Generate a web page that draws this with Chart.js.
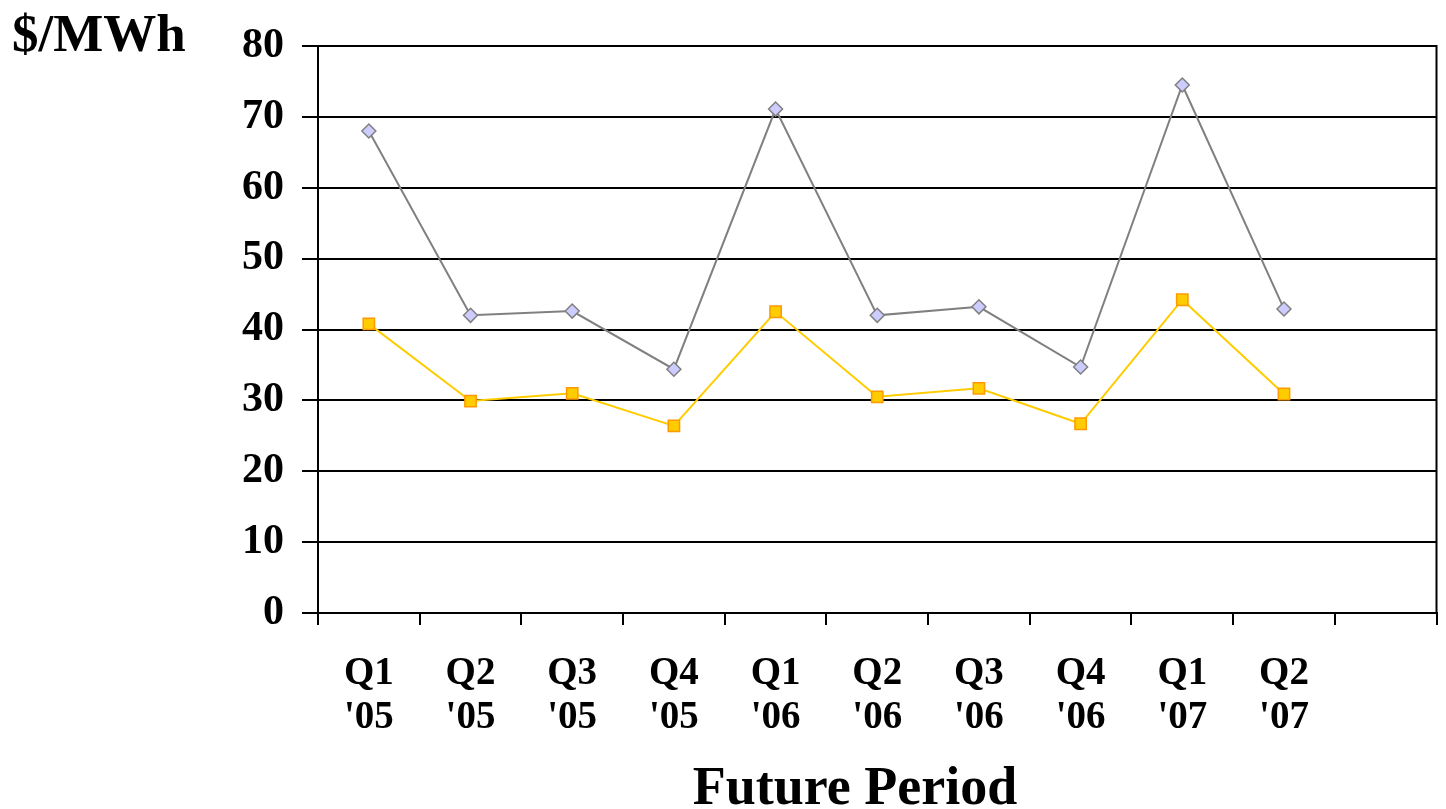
<!DOCTYPE html>
<html>
<head>
<meta charset="utf-8">
<title>Future Period prices</title>
<script src="https://cdn.jsdelivr.net/npm/chart.js@4"></script>
<style>
  html, body { margin: 0; padding: 0; background: #fff; }
  #wrap { width: 1446px; height: 809px; position: relative; }
</style>
</head>
<body>
<div id="wrap"><canvas id="chart"></canvas></div>
<script>
// quarters, last slot left empty on purpose
const periods = [['Q1', "'05"], ['Q2', "'05"], ['Q3', "'05"], ['Q4', "'05"], ['Q1', "'06"],
                 ['Q2', "'06"], ['Q3', "'06"], ['Q4', "'06"], ['Q1', "'07"], ['Q2', "'07"], ''];
const peakPrices = [68.0, 42.0, 42.6, 34.4, 71.1, 42.0, 43.2, 34.7, 74.5, 42.9];
const offPeakPrices = [40.8, 29.9, 31.0, 26.4, 42.5, 30.5, 31.7, 26.7, 44.2, 30.9];
const yMin = 0, yMax = 80, yStep = 10;

const FONT = '"Liberation Serif", "DejaVu Serif", serif';

// y title at the top left, x title under the labels, frame line on the right
const extras = {
  id: 'extras',
  afterDraw(c){
    const ctx = c.ctx, a = c.chartArea;
    ctx.save();
    ctx.strokeStyle = '#000'; ctx.lineWidth = 2;
    ctx.beginPath(); ctx.moveTo(a.right, a.top - 1); ctx.lineTo(a.right, a.bottom); ctx.stroke();
    ctx.fillStyle = '#000';
    ctx.font = 'bold 53px ' + FONT;
    ctx.textBaseline = 'alphabetic';
    ctx.textAlign = 'left';
    ctx.fillText('$/MWh', 12, 51);
    ctx.font = 'bold 54px ' + FONT;
    ctx.textAlign = 'center';
    ctx.fillText('Future Period', 855, 804);
    ctx.restore();
  }
};

new Chart(document.getElementById('chart'), {
  type: 'line',
  data: {
    labels: periods,
    datasets: [
      { label: 'Peak', data: peakPrices, borderColor: '#808080', borderWidth: 2,
        pointStyle: 'rectRot', pointRadius: 7, pointBackgroundColor: '#ccccff',
        pointBorderColor: '#808080', pointBorderWidth: 1.5, tension: 0 },
      { label: 'Off-peak', data: offPeakPrices, borderColor: '#ffcc00', borderWidth: 2,
        pointStyle: 'rect', pointRadius: 8, pointBackgroundColor: '#ffcc00',
        pointBorderColor: '#ff9900', pointBorderWidth: 1.5, tension: 0 }
    ]
  },
  options: {
    responsive: true, maintainAspectRatio: false, animation: false,
    layout: { padding: { top: 46, right: 8, left: 0, bottom: 0 } },
    plugins: { legend: { display: false }, tooltip: { enabled: false } },
    scales: {
      x: {
        offset: true,
        grid: { offset: true, drawOnChartArea: false, color: '#000', lineWidth: 2, tickLength: 12 },
        border: { color: '#000', width: 2 },
        ticks: { color: '#000', font: { family: FONT, size: 39, weight: 'bold', lineHeight: 1.15 },
                 padding: 26, maxRotation: 0, autoSkip: false },
        afterFit(s){ s.height = 196; }
      },
      y: {
        min: yMin, max: yMax,
        grid: { color: '#000', lineWidth: 2, tickLength: 16 },
        border: { color: '#000', width: 2 },
        ticks: { stepSize: yStep, color: '#000', font: { family: FONT, size: 42, weight: 'bold' }, padding: 18 },
        afterFit(s){ s.width = 318; }
      }
    }
  },
  plugins: [extras]
});
</script>
</body>
</html>
